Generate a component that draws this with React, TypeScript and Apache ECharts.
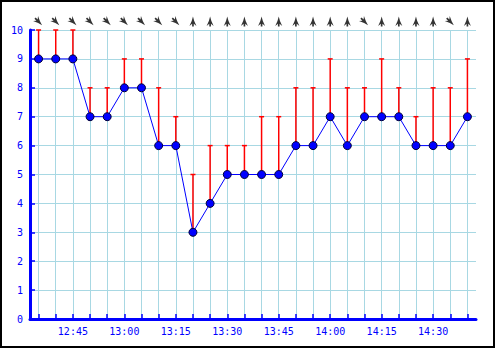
import React, { useEffect, useRef } from "react";
import * as echarts from "echarts";

const times = ["12:35","12:40","12:45","12:50","12:55","13:00","13:05","13:10","13:15","13:20","13:25","13:30","13:35","13:40","13:45","13:50","13:55","14:00","14:05","14:10","14:15","14:20","14:25","14:30","14:35","14:40"];
const speed = [9,9,9,7,7,8,8,6,6,3,4,5,5,5,5,6,6,7,6,7,7,7,6,6,6,7];
const gust = [10,10,10,8,8,9,9,8,7,5,6,6,6,7,7,8,8,9,8,8,9,8,7,8,8,9];
const windFrom = ["NW","NW","NW","NW","NW","NW","NW","NW","NW","S","S","S","S","S","S","S","S","S","S","NW","S","S","S","S","NW","S"];
const yTicks = [0, 10, 1];

const compass: Record<string, number> = { N: 0, NE: 45, E: 90, SE: 135, S: 180, SW: 225, W: 270, NW: 315 };

const arrowPath = "path://M5,0 L6.8,6 L10,13 L6.2,10 L6.2,14 L3.8,14 L3.8,10 L0,13 L3.2,6 Z";

export default function App() {
  const ref = useRef<HTMLDivElement>(null);
  useEffect(() => {
    document.body.style.margin = "0";
    const chart = echarts.init(ref.current!, null, { renderer: "svg" });
    const blue = "#0000ff";
    const font = "DejaVu Sans Mono";
    chart.setOption({
      animation: false,
      backgroundColor: "#ffffff",
      graphic: [
        { type: "rect", shape: { x: 1, y: 1, width: 493, height: 346 }, style: { fill: "none", stroke: "#000", lineWidth: 2 }, z: 100 },
      ],
      grid: [
        { left: 30, right: 19, top: 30, bottom: 29 },
        { left: 30, right: 19, top: 12, height: 16 },
      ],
      xAxis: [
        {
          type: "category",
          gridIndex: 0,
          data: times,
          boundaryGap: true,
          axisLine: { lineStyle: { color: blue, width: 3 } },
          axisTick: { show: true, inside: true, length: 5, interval: 0, alignWithLabel: true, lineStyle: { color: blue, width: 1.5 } },
          axisLabel: {
            interval: (i: number) => parseInt(times[i].split(":")[1], 10) % 15 === 0,
            color: blue, fontFamily: font, fontSize: 10, margin: 7,
          },
          splitLine: { show: true, interval: 0, alignWithLabel: true, lineStyle: { color: "#a8d8e3", width: 1 } },
        },
        {
          type: "category",
          gridIndex: 1,
          data: times,
          boundaryGap: true,
          show: false,
        },
      ],
      yAxis: [
        {
          type: "value",
          gridIndex: 0,
          min: yTicks[0],
          max: yTicks[1],
          interval: yTicks[2],
          axisLine: { show: true, lineStyle: { color: blue, width: 3 } },
          axisTick: { show: true, inside: true, length: 5, lineStyle: { color: blue, width: 1.5 } },
          axisLabel: { color: blue, fontFamily: font, fontSize: 10, margin: 7 },
          splitLine: { show: true, lineStyle: { color: "#a8d8e3", width: 1 } },
        },
        { type: "value", gridIndex: 1, min: 0, max: 1, show: false },
      ],
      series: [
        {
          type: "custom",
          xAxisIndex: 0,
          yAxisIndex: 0,
          data: speed.map((s, i) => [i, s, gust[i]]),
          z: 3,
          renderItem: (params: any, api: any) => {
            const i = api.value(0);
            const p0 = api.coord([i, api.value(1)]);
            const p1 = api.coord([i, api.value(2)]);
            const st = { stroke: "#ff0000", lineWidth: 1.5 };
            return {
              type: "group",
              children: [
                { type: "line", shape: { x1: p0[0], y1: p0[1], x2: p1[0], y2: p1[1] }, style: st },
                { type: "line", shape: { x1: p1[0] - 2.5, y1: p1[1], x2: p1[0] + 2.5, y2: p1[1] }, style: st },
              ],
            };
          },
        },
        {
          type: "line",
          xAxisIndex: 0,
          yAxisIndex: 0,
          data: speed,
          z: 5,
          symbol: "circle",
          symbolSize: 8,
          lineStyle: { color: blue, width: 1 },
          itemStyle: { color: blue, borderColor: "#000033", borderWidth: 1 },
        },
        {
          type: "scatter",
          xAxisIndex: 1,
          yAxisIndex: 1,
          symbol: arrowPath,
          symbolSize: [7, 10],
          itemStyle: { color: "#000" },
          data: windFrom.map((d, i) => ({
            value: [i, 0.4],
            symbolRotate: -((compass[d] + 180) % 360),
          })),
        },
      ],
    });
    return () => chart.dispose();
  }, []);
  return <div ref={ref} style={{ width: 495, height: 348 }} />;
}
